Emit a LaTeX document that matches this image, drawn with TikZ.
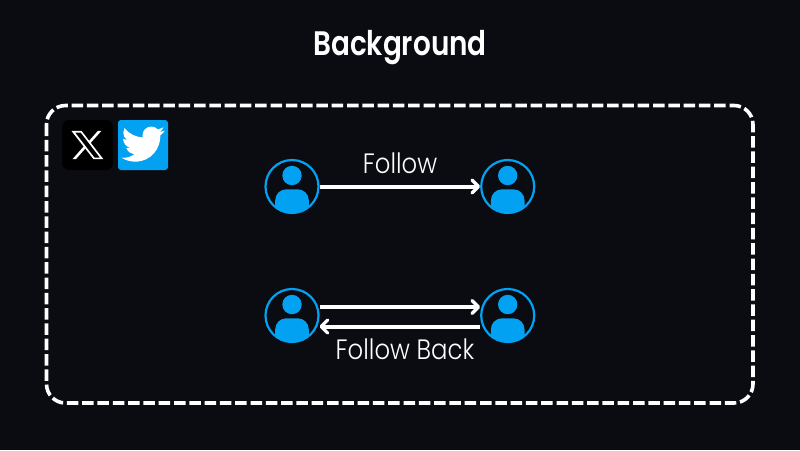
\documentclass[tikz,border=0pt]{standalone}
\usepackage{fontspec}
\setmainfont{Poppins}
\newfontfamily\lightf[FakeStretch=0.87]{Poppins Light}
\newfontfamily\boldf[FakeStretch=0.82]{Poppins SemiBold}
\usetikzlibrary{arrows.meta,svg.path}
\definecolor{bgc}{HTML}{0A0C12}
\definecolor{bluec}{HTML}{03A1F1}
\tikzset{
 person/.style={circle,draw=bluec,line width=2.2pt,minimum size=53pt,inner sep=0pt,
  path picture={
   \fill[bluec] ([yshift=11pt]path picture bounding box.center) circle (9.7pt);
   \fill[bluec,rounded corners=11pt] ([xshift=-16.8pt,yshift=-2.8pt]path picture bounding box.center) rectangle ([xshift=16.8pt,yshift=-60pt]path picture bounding box.center);
  }},
 link/.style={draw=white,line width=4pt,-{Straight Barb[length=6.5pt,width=13pt,round,line width=3.2pt]}},
 labeltext/.style={text=white,font=\lightf\fontsize{28}{28}\selectfont,inner sep=0pt,anchor=base},
 frame/.style={draw=white,line width=3.6pt,dash pattern=on 11.5pt off 3.8pt,rounded corners=19pt}
}
\begin{document}
\begin{tikzpicture}[x=1pt,y=-1pt]
\useasboundingbox (0,0) rectangle (800,450);
\fill[bgc] (0,0) rectangle (800,450);
\node[text=white,font=\boldf\fontsize{34}{34}\selectfont,inner sep=0pt,anchor=base] (title) at (400,55) {Background};
\draw[frame] (46.5,105.5) rectangle (753,403);
\fill[black,rounded corners=7pt] (62,120) rectangle (113,170);
\fill[bluec,rounded corners=3pt] (118,120) rectangle (168,170);
\begin{scope}[shift={(71.5,129.5)},xscale=1.33,yscale=-1.3]
\fill[white,even odd rule] svg {M0 1.15H7.6L24 22.85H16.6ZM2.7 2.4L17.2 21.6H21.4L7 2.4Z};
\fill[white] svg {M19.8 1.15H22.4L14 10.8L12.8 9.2Z};
\fill[white] svg {M9.3 12.9L10.5 14.5L3.3 22.85H.7Z};
\end{scope}
\begin{scope}[shift={(121.5,122.5)},xscale=1.8,yscale=-1.8]
\fill[white] svg {M23.953 4.57c-.9 .4 -1.9 .65 -2.825 .775c1.02 -.61 1.8 -1.58 2.163 -2.723c-.951 .555 -2.005 .959 -3.127 1.184c-.9 -.96 -2.17 -1.56 -3.59 -1.56c-2.72 0 -4.92 2.2 -4.92 4.92c0 .38 .04 .76 .126 1.122C7.69 8.095 4.067 6.13 1.64 3.162c-.42 .72 -.666 1.57 -.666 2.475c0 1.71 .87 3.213 2.188 4.096c-.8 -.03 -1.56 -.25 -2.228 -.616v.06c0 2.38 1.7 4.37 3.946 4.827c-.72 .19 -1.48 .22 -2.212 .085c.63 1.97 2.45 3.37 4.604 3.417c-1.68 1.32 -3.8 2.105 -6.102 2.105c-.39 0 -.779 -.023 -1.17 -.067c2.18 1.4 4.77 2.209 7.557 2.209c9.053 0 13.998 -7.496 13.998 -13.985c0 -.21 0 -.42 -.015 -.63c.96 -.69 1.8 -1.56 2.46 -2.548Z};
\end{scope}
\node[person] (a) at (292,186.5) {};
\node[person] (b) at (507.7,186.5) {};
\node[person] (c) at (292,315.5) {};
\node[person] (d) at (507.7,315.5) {};
\draw[link] (a) -- (b);
\draw[link] ([yshift=8.5pt]c.east) -- ([yshift=8.5pt]d.west);
\draw[link] ([yshift=-11pt]d.west) -- ([yshift=-11pt]c.east);
\node[labeltext] (f) at (400,173.5) {Follow};
\node[labeltext] (g) at (405,359) {Follow Back};
\end{tikzpicture}
\end{document}
